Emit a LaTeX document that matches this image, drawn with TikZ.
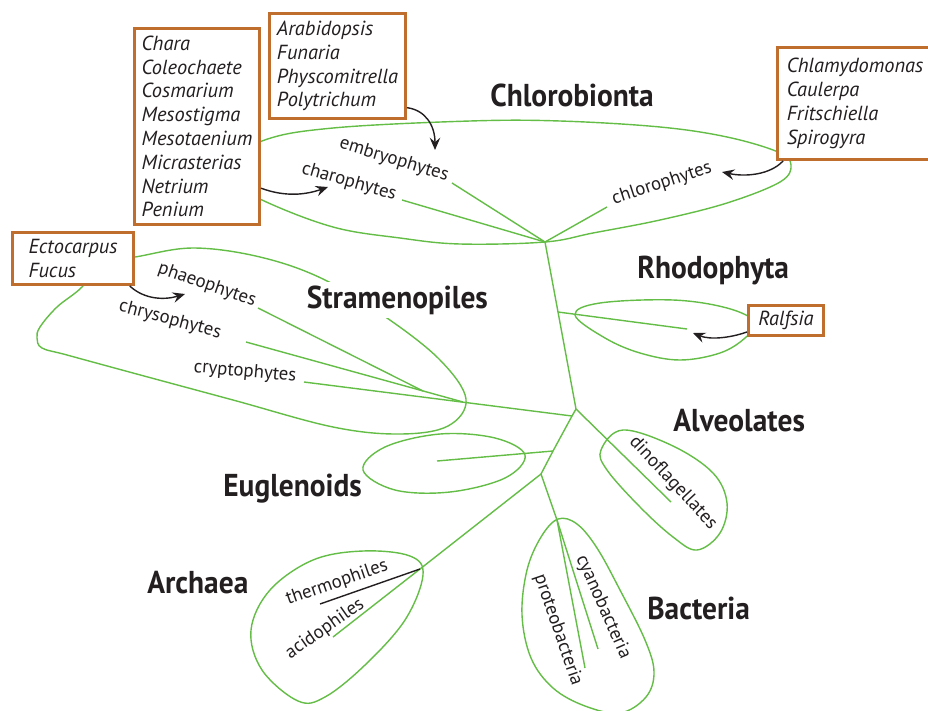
\documentclass[tikz,border=0pt]{standalone}
\usepackage{fontspec}
\setmainfont{PT Sans}
\newfontfamily\grpfont[FakeStretch=0.93]{PT Sans}
\usetikzlibrary{arrows.meta}
\definecolor{leaf}{RGB}{100,189,70}
\definecolor{boxc}{RGB}{192,110,45}
\definecolor{ink}{RGB}{35,31,32}

\begin{document}
\begin{tikzpicture}[x=0.02cm, y=-0.02cm,
  branch/.style={leaf, line width=0.8pt, line join=round},
  genus/.style={rectangle, draw=boxc, line width=1.7pt, fill=white, align=left,
    text=ink, font=\itshape\fontsize{11.6}{13.55}\selectfont},
  taxon/.style={text=ink, font=\fontsize{10.7}{12}\selectfont, inner sep=1pt},
  group/.style={text=ink, font=\grpfont\bfseries\fontsize{18}{21}\selectfont,
    anchor=base west, inner sep=0pt},
  link/.style={ink, line width=0.8pt, -{Stealth[length=7pt, width=6pt, inset=2.5pt]}}]

\useasboundingbox (0,0) rectangle (928,710);

% clade loops
\draw[branch] plot[smooth cycle, tension=0.6] coordinates {(215,172) (262,141) (333,128)
  (470,121) (560,121) (660,127) (727,137) (778,152) (791,165) (780,182) (727,203)
  (660,220) (593,233) (545,242) (460,244) (400,238) (333,227) (262,200)};
\draw[branch] plot[smooth cycle, tension=0.6] coordinates {(100,262) (135,257) (193,248)
  (260,257) (323,279) (387,318) (440,360) (466,399) (448,426) (400,434) (333,427)
  (233,400) (133,373) (67,355) (42,348) (37,338) (40,327) (57,307) (82,287)};
\draw[branch] plot[smooth cycle, tension=0.6] coordinates {(575,315) (600,303) (673,300)
  (727,308) (755,322) (745,338) (720,353) (680,360) (640,353) (605,338)};
\draw[branch] plot[smooth cycle, tension=0.6] coordinates {(363,470) (385,447) (440,434)
  (495,438) (525,455) (505,478) (450,492) (395,490)};
\draw[branch] plot[smooth cycle, tension=0.6] coordinates {(601,450) (623,430) (673,446)
  (713,473) (727,503) (720,533) (697,550) (673,537) (640,507) (607,470)};
\draw[branch] plot[smooth cycle, tension=0.6] coordinates {(423,575) (410,556) (363,551)
  (313,560) (270,590) (251,630) (262,670) (298,701) (325,697) (365,665) (405,620)};
\draw[branch] plot[smooth cycle, tension=0.6] coordinates {(558,519) (577,524) (597,548)
  (620,590) (645,640) (654,672) (646,697) (620,713) (585,706) (553,688) (531,658)
  (522,615) (527,570) (541,537)};

% tree
\coordinate (n1) at (545,242);
\coordinate (rj) at (558,312);
\coordinate (n2) at (576,409);
\coordinate (sj) at (572,416);
\coordinate (s2) at (463,402);
\coordinate (s1) at (423,391);
\coordinate (ej) at (553,451);
\coordinate (n3) at (541,474);
\coordinate (aj) at (420,569);
\coordinate (bj) at (557,520);

\coordinate (emb) at (452,183);
\coordinate (cha) at (402,200);
\coordinate (chl) at (607,207);
\coordinate (rho) at (687,329);
\coordinate (pha) at (258,308);
\coordinate (chr) at (246,342);
\coordinate (cry) at (304,382);
\coordinate (eug) at (437,461);
\coordinate (din) at (671,502);
\coordinate (the) at (320,604);
\coordinate (aci) at (333,637);
\coordinate (pro) at (585,668);
\coordinate (cya) at (598,649);

\draw[branch] (emb) -- (n1) -- (chl);
\draw[branch] (cha) -- (n1) -- (rj) -- (n2) -- (sj) -- (ej) -- (n3) -- (aj) -- (aci);
\draw[branch] (rj) -- (rho);
\draw[branch] (sj) -- (cry);
\draw[branch] (s2) -- (chr);
\draw[branch] (s1) -- (pha);
\draw[branch] (ej) -- (eug);
\draw[branch] (n2) -- (din);
\draw[branch] (n3) -- (bj) -- (cya);
\draw[branch] (bj) -- (pro);
\draw[ink, line width=0.8pt] (aj) -- (the);

% genera
\node[genus, minimum width=2.5cm, minimum height=3.92cm] (charo) at (197,126.5)
  {Chara\\Coleochaete\\Cosmarium\\Mesostigma\\Mesotaenium\\Micrasterias\\Netrium\\Penium};
\node[genus, minimum width=2.72cm, minimum height=2.1cm] (arab) at (337.5,66)
  {Arabidopsis\\Funaria\\Physcomitrella\\Polytrichum};
\node[genus, minimum width=3.1cm, minimum height=2.24cm] (chlamy) at (855,103.5)
  {Chlamydomonas\\Caulerpa\\Fritschiella\\Spirogyra};
\node[genus, minimum width=2.42cm, minimum height=1.04cm] (ecto) at (73,258.5)
  {Ectocarpus\\Fucus};
\node[genus, minimum width=1.5cm, minimum height=0.56cm] (ralf) at (786,320.5) {Ralfsia};

\coordinate (embarr) at (435,150);
\coordinate (chaarr) at (328,187);
\coordinate (chlarr) at (722,172);
\coordinate (phaarr) at (185,294);
\coordinate (rhoarr) at (693,333);

\draw[link] ([yshift=7pt]arab.south east) .. controls (425,110) and (435,125) .. (embarr);
\draw[link] ([yshift=21.5pt]charo.south east) .. controls (285,197) and (305,195) .. (chaarr);
\draw[link] ([xshift=4pt]chlamy.south west) .. controls (770,175) and (745,177) .. (chlarr);
\draw[link] ([xshift=-3pt]ecto.south east) .. controls (145,300) and (165,300) .. (phaarr);
\draw[link] ([yshift=3pt]ralf.south west) .. controls (730,338) and (710,340) .. (rhoarr);

% branch labels
\node[taxon, rotate=-17] (l-emb) at (394,160) {embryophytes};
\node[taxon, rotate=-16] (l-cha) at (349,182) {charophytes};
\node[taxon, rotate=18] (l-chl) at (662,184) {chlorophytes};
\node[taxon, rotate=-19] (l-pha) at (207,285) {phaeophytes};
\node[taxon, rotate=-15] (l-chr) at (170,320) {chrysophytes};
\node[taxon, rotate=-5] (l-cry) at (245,372) {cryptophytes};
\node[taxon, rotate=-47] (l-din) at (673,483) {dinoflagellates};
\node[taxon, rotate=19] (l-the) at (337,583) {thermophiles};
\node[taxon, rotate=35] (l-aci) at (325,629) {acidophiles};
\node[taxon, rotate=-71] (l-pro) at (558,630) {proteobacteria};
\node[taxon, rotate=-66] (l-cya) at (603,607) {cyanobacteria};

% groups
\node[group] (g-chl) at (490,106) {Chlorobionta};
\node[group] (g-rho) at (637,278) {Rhodophyta};
\node[group, fill=white, inner sep=2pt] (g-str) at (303,308) {Stramenopiles};
\node[group] (g-alv) at (673,431) {Alveolates};
\node[group] (g-eug) at (223,496) {Euglenoids};
\node[group] (g-arc) at (147,593) {Archaea};
\node[group] (g-bac) at (647,619) {Bacteria};

\end{tikzpicture}
\end{document}
